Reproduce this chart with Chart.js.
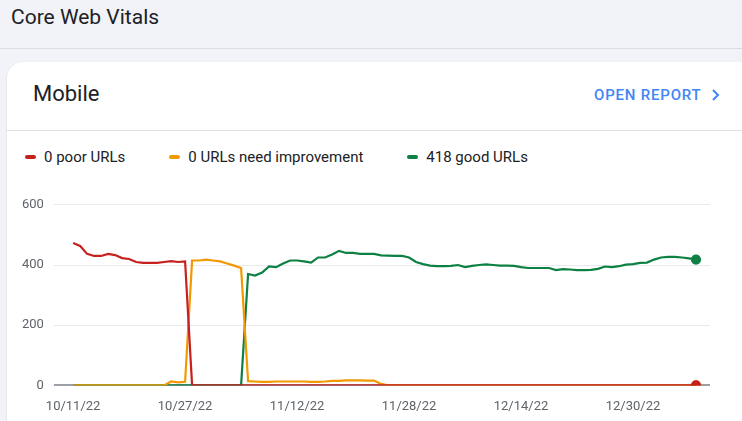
<!DOCTYPE html>
<html><head><meta charset="utf-8">
<script src="https://cdn.jsdelivr.net/npm/chart.js@4"></script>
<style>
body{margin:0;width:742px;height:421px;background:#f1f3f9;font-family:Roboto,sans-serif;overflow:hidden;position:relative}
#hdr{position:absolute;left:11px;top:5px;font-size:21px;color:#202124}
#sep{position:absolute;left:0;right:0;top:48px;height:1px;background:#dadce0}
#card{position:absolute;left:7px;top:62px;width:760px;height:400px;background:#fff;border-radius:16px;box-shadow:0 1px 2px rgba(60,64,67,.2)}
#mob{position:absolute;left:33px;top:81px;font-size:22px;color:#202124}
#open{position:absolute;left:594px;top:86px;font-size:15px;font-weight:500;letter-spacing:.8px;color:#4285f4}
#div{position:absolute;left:7px;right:0;top:130px;height:1px;background:#e0e0e0}
#leg{position:absolute;left:25px;top:148px;font-size:15px;color:#202124;display:flex}
#leg span{display:flex;align-items:center;margin-right:44px}
#leg i{display:inline-block;width:11px;height:4px;border-radius:2px;margin-right:8px}
#wrap{position:absolute;left:12px;top:187px;width:708px;height:234px}
</style></head><body>
<div id="hdr">Core Web Vitals</div><div id="sep"></div>
<div id="card"></div>
<div id="mob">Mobile</div>
<div id="open">OPEN REPORT <svg width="12" height="12" viewBox="0 0 12 12" style="vertical-align:-1px;margin-left:4px"><path d="M3 1l5 5-5 5" stroke="#4285f4" stroke-width="2" fill="none"/></svg></div>
<div id="div"></div>
<div id="leg"><span><i style="background:#c5221f"></i>0 poor URLs</span><span><i style="background:#f29900"></i>0 URLs need improvement</span><span><i style="background:#0d8043"></i>418 good URLs</span></div>
<div id="wrap"><canvas id="c"></canvas></div>
<script>
const tickLabels=["10/11/22","10/27/22","11/12/22","11/28/22","12/14/22","12/30/22"];
const poor=[473,463,437,430,430,437,433,423,420,410,407,407,407,410,413,410,412].concat(Array(73).fill(0));
const needsImprovement=Array(14).fill(0).concat([13,10,12,415,415,418,415,412,405,398,390,
 14,13,12,12,13,13,13,13,13,12,12,13,15,15,17,17,17,16,16,5]).concat(Array(45).fill(0));
const good=Array(25).fill(0).concat([370,365,375,395,393,405,415,415,412,408,425,425,435,447,440,440,437,437,437,432,
 431,430,430,425,410,403,398,396,396,397,400,393,397,400,402,400,398,398,397,393,
 390,390,390,390,383,386,385,383,383,384,387,395,393,396,401,403,407,408,418,425,427,427,425,422,418]);
const pr=c=>c.dataIndex===89?4:0;
function ds(d,col){return{data:d.map((y,x)=>({x,y})),borderColor:col,backgroundColor:col,borderWidth:2.2,pointRadius:pr,pointHoverRadius:0,tension:0};}
new Chart(document.getElementById('c'),{type:'line',
 data:{datasets:[ds(poor,'#c5221f'),ds(needsImprovement,'#f29900'),ds(good,'#0d8043')]},
 options:{responsive:true,maintainAspectRatio:false,animation:false,
  plugins:{legend:{display:false},tooltip:{enabled:false}},
  layout:{padding:{left:0,right:10,top:4}},
  scales:{
   x:{type:'linear',min:-1.6,max:91,grid:{display:false},border:{display:false},
      afterBuildTicks:a=>{a.ticks=tickLabels.map((_,i)=>({value:i*16}));},
      ticks:{autoSkip:false,maxRotation:0,color:'#5f6368',font:{family:'Roboto',size:13},padding:6,callback:v=>tickLabels[v/16]}},
   y:{min:0,max:600,ticks:{stepSize:200,color:'#5f6368',font:{family:'Roboto',size:13},padding:10},
      border:{display:false},grid:{color:c=>c.tick.value===0?'#9aa0a6':'#e8eaed',lineWidth:c=>c.tick.value===0?2:1,drawTicks:true,tickLength:8}}
  }}});
</script></body></html>
